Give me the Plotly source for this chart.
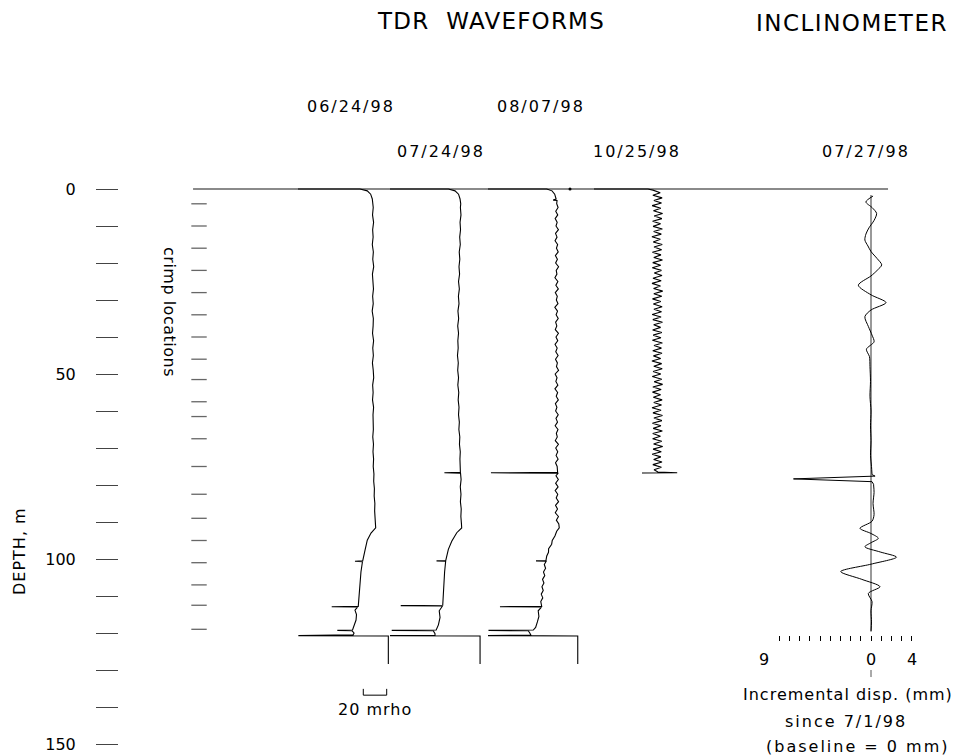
import plotly.graph_objects as go

W, H = 959, 756
FONT = "DejaVu Sans"

# ---------------- data ----------------
depth_ticks = [0, 10, 20, 30, 40, 50, 60, 70, 80, 90, 100, 110, 120, 130, 140, 150]
depth_labels = ["0", "", "", "", "", "50", "", "", "", "", "100", "", "", "", "", "150"]

crimp_depths = [4, 10, 16, 22, 28, 34, 40, 46, 51.5, 57.5, 61.5, 67.5, 75,
                82.5, 89, 95, 101, 107, 112.5, 119]

tdr_dates = ["06/24/98", "07/24/98", "08/07/98", "10/25/98"]
incl_date = "07/27/98"

# TDR waveforms: reflection (mrho) relative to each waveform's own baseline
# 06/24/98
t1_head_depth = [0, 0, 0.5, 1.4, 2.7, 4.0]
t1_head_val = [-64.1, -11.1, -4.9, -2.0, -0.6, 0.0]
t1_body_start, t1_body_step = 5, 2
t1_body_val = [0.2, -0.4, 0.5, -0.3, 0.1, -0.6, 0.3, -0.2, 0.6, -0.5,
               0.0, 0.4, -0.3, 0.2, -0.7, 0.3, 0.1, -0.4, 0.5, -0.2,
               0.3, -0.5, 0.2, 0.6, -0.3, 0.1, -0.4, 0.5, 0.0, 0.3,
               0.3, -0.2, 0.4, 0.0, 0.5, 0.2, 0.8, 0.6, 1.2, 1.0,
               1.6, 1.4, 2.0]
t1_tail_depth = [91.6, 93.0, 94.9, 97.6, 100.5, 100.6, 100.7, 103.5, 106.6, 110.0,
                 112.8, 112.9, 113.0, 113.8, 115.0, 116.5, 118.2, 119.2, 119.3, 119.4,
                 120.0, 120.5, 120.7, 120.8, 128.4]
t1_tail_val = [2.3, -1.7, -4.9, -6.8, -8.8, -15.4, -9.0, -10.3, -11.1, -12.0,
               -12.6, -35.3, -13.2, -15.4, -14.1, -14.5, -16.7, -17.5, -30.5, -17.9,
               -16.2, -17.0, -63.8, 13.1, 13.1]

# 07/24/98
t2_head_depth = [0, 0, 0.5, 1.4, 2.7, 4.0]
t2_head_val = [-60.5, -10.5, -4.9, -1.9, -0.6, 0.0]
t2_body_start, t2_body_step = 5, 2
t2_body_val = [-0.3, 0.2, -0.6, -0.2, -0.9, -0.4, -1.3, -0.8, -1.5, -1.0,
               -1.9, -1.2, -2.0, -1.5, -2.4, -1.8, -2.6, -1.9, -2.5, -2.2,
               -2.8, -2.1, -2.6, -1.9, -2.5, -1.7, -2.2, -1.5, -1.9, -1.2,
               -1.6, -0.8, -1.1, -0.4, -0.7, -0.2]
t2_tail_depth = [76.6, 76.7, 76.8, 78.5, 80.5, 82.5, 84.5, 86.5, 88.5, 90.5,
                 91.6, 92.9, 95.2, 97.4, 100.4, 100.5, 100.6, 103.5, 106.3, 109.5,
                 112.5, 112.6, 112.7, 114.0, 115.8, 117.8, 119.2, 119.3, 119.4, 120.2,
                 120.6, 120.7, 120.8, 128.4]
t2_tail_val = [-0.3, -14.0, -0.2, 0.3, -0.4, 0.2, -0.3, 0.4, 0.1, 0.6,
               0.8, -3.4, -7.7, -10.6, -12.8, -20.7, -12.9, -13.8, -14.3, -15.0,
               -15.4, -51.3, -15.6, -18.4, -17.7, -19.1, -21.0, -59.0, -23.5, -22.0,
               -22.0, -60.5, 16.5, 16.5]

# 08/07/98
t3_head_depth = [0, 0, 0.5, 1.4, 2.7, 3.0, 3.1, 4.0]
t3_head_val = [-58.7, -8.5, -4.0, -1.7, -0.5, -3.0, 0.3, 0.0]
t3_body_start, t3_body_step = 5, 1
t3_body_val = [1.2, -0.8, 0.9, -1.3, 0.4, -0.6, 1.5, -1.0, 0.3, -1.4,
               0.8, -0.2, 1.3, -1.1, 0.6, -0.9, 1.6, -0.4, 0.2, -1.5,
               1.0, -0.7, 1.4, -1.2, 0.5, -0.3, 1.1, -1.6, 0.7, -0.5,
               1.3, -0.9, 0.1, -1.2, 1.5, -0.6, 0.9, -1.4, 0.4, -0.8,
               1.2, -1.0, 0.6, -0.2, 1.6, -1.3, 0.3, -0.7, 1.0, -1.5,
               0.8, -0.4, 1.4, -1.1, 0.2, -0.9, 1.3, -0.6, 0.7, -1.3,
               1.1, -0.3, 0.5, -1.2, 1.5, -0.8, 0.9, -0.5, 1.2, -1.0,
               0.4]
t3_tail_depth = [76.6, 76.7, 76.8, 77.5, 78.5, 79.5, 80.5, 81.5, 82.5, 83.5,
                 84.5, 85.5, 86.5, 87.5, 88.5, 89.5, 90.5, 91.6, 92.5, 93.8,
                 95.0, 96.0, 97.2, 98.2, 99.2, 100.4, 100.5, 100.6, 101.5, 102.5,
                 103.5, 104.5, 105.5, 106.5, 107.5, 108.5, 109.5, 110.5, 111.5, 112.8,
                 112.9, 113.0, 114.0, 115.5, 117.0, 118.5, 119.2, 119.3, 119.4, 120.0,
                 120.6, 120.7, 120.8, 128.4]
t3_tail_val = [0.8, -56.2, 1.3, -0.6, 1.4, -0.9, 1.2, -1.3, 0.9, -0.4,
               1.6, -1.0, 0.7, -1.2, 1.5, -0.3, 1.8, 2.2, 0.0, -1.5,
               -3.8, -4.3, -6.9, -7.0, -8.5, -9.2, -17.7, -9.0, -10.6, -9.5,
               -11.3, -10.2, -12.1, -10.9, -12.6, -11.5, -13.2, -11.9, -13.6, -12.8,
               -48.5, -13.0, -15.8, -15.2, -16.5, -18.0, -20.0, -58.3, -24.3, -23.0,
               -22.0, -58.7, 18.0, 18.0]
t3_mark_depth, t3_mark_val = [0], [11.4]

# 10/25/98
t4_head_depth = [0, 0, 0.3]
t4_head_val = [-54.1, -8.0, -3.7]
t4_body_start, t4_body_step = 1.0, 0.7
t4_body_val = [2.5, -3.8, 4.1, -2.9, 3.6, -4.4, 3.0, -3.3, 4.5, -2.7,
               3.9, -4.0, 2.8, -3.6, 4.3, -3.1, 3.4, -4.6, 2.6, -3.5,
               4.2, -2.8, 3.7, -4.2, 3.1, -3.0, 4.4, -3.9, 2.9, -4.3,
               3.5, -2.6, 4.0, -3.7, 3.3, -4.5, 2.7, -3.2, 4.6, -3.0,
               3.8, -4.1, 3.0, -3.4, 4.1, -2.9, 3.6, -4.4, 3.2, -3.8,
               4.4, -3.1, 2.8, -4.0, 3.9, -3.5, 3.1, -4.2, 4.3, -2.8,
               3.5, -3.9, 4.0, -3.3, 2.9, -4.6, 3.7, -3.0, 4.2, -3.6,
               3.0, -4.3, 3.8, -2.7, 4.5, -3.8, 3.3, -4.1, 2.8, -3.4,
               4.1, -3.0, 3.6, -4.5, 3.2, -3.7, 4.4, -2.9, 3.9, -4.2,
               3.1, -3.5, 4.3, -3.9, 2.7, -4.0, 3.8, -3.2, 4.6, -3.6,
               3.4, -4.4, 3.0, -3.1, 4.0, -3.8, 3.5, -2.8]
t4_tail_depth = [76.5, 76.7, 76.75]
t4_tail_val = [0.5, 17.0, -13.1]

# Inclinometer incremental displacement (mm) vs depth (m)
incl_depth = [1.9, 3.5, 5.0, 6.6, 8.5, 10.5, 12.2, 13.8, 15.4, 16.9,
              18.8, 20.5, 22.0, 23.5, 26.0, 28.6, 30.7, 32.7, 34.5, 37.2,
              39.5, 41.3, 43.3, 45.3, 48, 52, 56, 60, 64, 68,
              72, 75, 77.2, 77.6, 78.35, 79.1, 79.8, 82, 85, 88,
              89.8, 91.7, 93.1, 94.4, 95.6, 96.7, 98.1, 99.5, 101.4, 103.4,
              105.5, 107.5, 109.3, 111.5, 114, 117, 119.6]
incl_mm = [0.2, -0.5, 0.1, 0.55, 0.3, -0.2, -0.5, -0.6, -0.3, 0.0,
           0.6, 1.05, 0.6, 0.0, -1.24, 0.0, 1.47, 0.0, -0.6, -0.25,
           0.1, 0.3, -0.45, -0.15, -0.1, -0.05, -0.1, 0.0, -0.05, 0.0,
           -0.05, 0.05, 0.1, 0.4, -7.6, 0.1, 0.25, 0.3, 0.2, 0.3,
           0.1, -1.08, 0.0, 0.72, 0.0, -0.6, 0.9, 2.5, 0.0, -2.97,
           -0.9, 0.88, -0.26, 0.1, 0.0, 0.05, 0.0]
incl_baseline_depth = [1.6, 119.4]
incl_ticks = [-9, -8, -7, -6, -5, -4, -3, -2, -1, 0, 1, 2, 3, 4]
incl_tick_labels = ["9", "0", "4"]

# ---------------- layout constants ----------------
PX_PER_MRHO = 1.17
PX_PER_M = 3.7
PX_PER_MM = 10.2
X0_PX = 373        # pixel of first waveform baseline
Y0_PX = 189        # pixel of depth 0
INCL0_PX = 871     # pixel of 0 mm
tdr_offsets = [0, 75, 157, 243]   # waveform spacing in mrho
ground_x = [-153.8, 440.2]
crimp_x = -148.7
scale_bar_left = -8.3
scale_bar_mrho = 20
scale_bar_depth = [135.1, 136.8]

x_range = [-X0_PX / PX_PER_MRHO, (W - X0_PX) / PX_PER_MRHO]
x2_range = [-INCL0_PX / PX_PER_MM, (W - INCL0_PX) / PX_PER_MM]
y_range = [(H - Y0_PX) / PX_PER_M, -Y0_PX / PX_PER_M]


def build(head_d, head_v, start, step, body_v, tail_d, tail_v, off):
    d = list(head_d) + [start + step * i for i in range(len(body_v))] + list(tail_d)
    v = list(head_v) + list(body_v) + list(tail_v)
    return [x + off for x in v], d


waves = [
    build(t1_head_depth, t1_head_val, t1_body_start, t1_body_step, t1_body_val,
          t1_tail_depth, t1_tail_val, tdr_offsets[0]),
    build(t2_head_depth, t2_head_val, t2_body_start, t2_body_step, t2_body_val,
          t2_tail_depth, t2_tail_val, tdr_offsets[1]),
    build(t3_head_depth, t3_head_val, t3_body_start, t3_body_step, t3_body_val,
          t3_tail_depth, t3_tail_val, tdr_offsets[2]),
    build(t4_head_depth, t4_head_val, t4_body_start, t4_body_step, t4_body_val,
          t4_tail_depth, t4_tail_val, tdr_offsets[3]),
]

fig = go.Figure()

# ground surface line
fig.add_trace(go.Scatter(x=ground_x, y=[0, 0], mode="lines",
                         line=dict(color="#8a8a8a", width=1.8), hoverinfo="skip"))
# crimp locations
fig.add_trace(go.Scatter(x=[crimp_x] * len(crimp_depths), y=crimp_depths, mode="markers",
                         marker=dict(symbol="line-ew", size=11,
                                     line=dict(color="#666666", width=1.3)),
                         hoverinfo="skip"))
# TDR waveforms
for (wx, wd), name in zip(waves, tdr_dates):
    fig.add_trace(go.Scatter(x=wx, y=wd, mode="lines", name=name,
                             line=dict(color="black", width=1.1), hoverinfo="skip"))
fig.add_trace(go.Scatter(x=[v + tdr_offsets[2] for v in t3_mark_val], y=t3_mark_depth,
                         mode="markers", marker=dict(color="black", size=3),
                         hoverinfo="skip"))
# scale bar 20 mrho
fig.add_trace(go.Scatter(
    x=[scale_bar_left, scale_bar_left, scale_bar_left + scale_bar_mrho, scale_bar_left + scale_bar_mrho],
    y=[scale_bar_depth[0], scale_bar_depth[1], scale_bar_depth[1], scale_bar_depth[0]],
    mode="lines", line=dict(color="black", width=1), hoverinfo="skip"))

# inclinometer baseline
fig.add_trace(go.Scatter(x=[0, 0], y=incl_baseline_depth, xaxis="x2", yaxis="y", mode="lines",
                         line=dict(color="#777777", width=1.5), hoverinfo="skip"))
# inclinometer curve: smooth parts + sharp spike
spike_lo, spike_hi = 77.2, 79.8
idx_a = [i for i, d in enumerate(incl_depth) if d <= spike_lo]
idx_b = [i for i, d in enumerate(incl_depth) if spike_lo <= d <= spike_hi]
idx_c = [i for i, d in enumerate(incl_depth) if d >= spike_hi]
for idx, shape in ((idx_a, "spline"), (idx_b, "linear"), (idx_c, "spline")):
    fig.add_trace(go.Scatter(x=[incl_mm[i] for i in idx], y=[incl_depth[i] for i in idx],
                             xaxis="x2", yaxis="y", mode="lines",
                             line=dict(color="black", width=1, shape=shape, smoothing=0.8),
                             hoverinfo="skip"))
# small tick under the 0 label
fig.add_trace(go.Scatter(x=[0, 0], y=[130.0, 131.9], xaxis="x2", yaxis="y", mode="lines",
                         line=dict(color="#555555", width=1), hoverinfo="skip"))


def txt(text, x, y, size=16, spacing=0, angle=0, xanchor="center"):
    t = f'<span style="letter-spacing:{spacing}px">{text}</span>' if spacing else text
    return dict(text=t, x=x / W, y=1 - y / H, xref="paper", yref="paper", showarrow=False,
                xanchor=xanchor, yanchor="middle", textangle=angle,
                font=dict(family=FONT, size=size, color="black"))


date_pos = [(351, 107), (441, 151), (541, 107), (637, 151)]
annotations = [
    txt("TDR  WAVEFORMS", 491, 21, size=23, spacing=1.2),
    txt("INCLINOMETER", 852, 23.5, size=23, spacing=1.5),
    txt("DEPTH, m", 19, 551, size=16, spacing=1, angle=-90),
    txt("crimp locations", 170, 312, size=16, spacing=0.5, angle=90),
    txt("20 mrho", 374.5, 709, size=16, spacing=1),
    txt(incl_date, 866, 151, size=16, spacing=2),
    txt(incl_tick_labels[0], 764, 659.5),
    txt(incl_tick_labels[1], 871, 659.5),
    txt(incl_tick_labels[2], 912, 659.5),
    txt("Incremental disp. (mm)", 848, 694.5, spacing=1),
    txt("since 7/1/98", 845.5, 721.5, spacing=2),
    txt("(baseline = 0 mm)", 857.5, 746.5, spacing=2),
]
for name, (px, py) in zip(tdr_dates, date_pos):
    annotations.append(txt(name, px, py, size=16, spacing=2))

fig.update_layout(
    width=W, height=H,
    margin=dict(l=0, r=0, t=0, b=0),
    paper_bgcolor="white", plot_bgcolor="white",
    showlegend=False,
    annotations=annotations,
    xaxis=dict(range=x_range, domain=[0, 1], visible=False, fixedrange=True),
    xaxis2=dict(range=x2_range, overlaying="x", anchor="free", position=1 - 635 / H,
                side="bottom", tickmode="array", tickvals=incl_ticks, ticks="outside",
                ticklen=5, tickwidth=1, tickcolor="black", showticklabels=False,
                showline=False, showgrid=False, zeroline=False, automargin=False,
                fixedrange=True),
    yaxis=dict(range=y_range, domain=[0, 1], anchor="free", position=118 / W, side="left",
               tickmode="array", tickvals=depth_ticks, ticktext=depth_labels,
               ticks="outside", ticklen=22, tickwidth=1.3, tickcolor="#444444",
               tickfont=dict(family=FONT, size=16, color="black"), ticklabelstandoff=17,
               showline=False, showgrid=False, zeroline=False, automargin=False,
               fixedrange=True),
)

fig.write_html("out.html", include_plotlyjs=True, config={"displayModeBar": False},
               post_script="document.body.style.margin='0';document.body.style.overflow='hidden';")
